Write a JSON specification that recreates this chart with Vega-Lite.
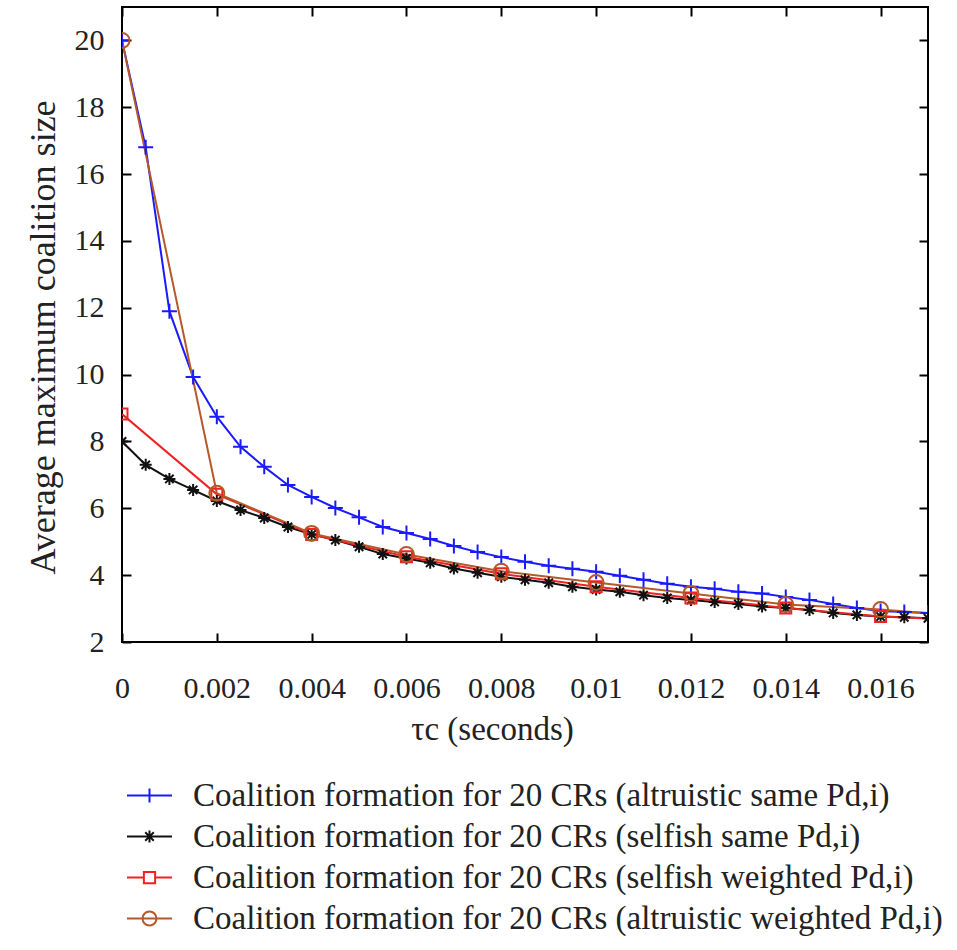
{
  "$schema": "https://vega.github.io/schema/vega-lite/v6.json",
  "width": 806,
  "height": 635,
  "autosize": "none",
  "padding": {"left": 122, "top": 7, "right": 29, "bottom": 308},
  "background": "white",
  "config": {
    "font": "Liberation Serif",
    "view": {"stroke": "black", "strokeWidth": 2},
    "axis": {
      "grid": false,
      "domain": false,
      "tickColor": "black",
      "tickWidth": 2,
      "tickSize": -9,
      "labelFont": "Liberation Serif",
      "labelFontSize": 30,
      "labelColor": "#222222",
      "titleFont": "Liberation Serif",
      "titleFontSize": 33,
      "titleFontWeight": "normal",
      "titleColor": "#222222"
    }
  },
  "data": {
    "values": [
      {"series": "altruistic same", "x": 0, "y": 20},
      {"series": "altruistic same", "x": 0.0005, "y": 16.8},
      {"series": "altruistic same", "x": 0.001, "y": 11.9},
      {"series": "altruistic same", "x": 0.0015, "y": 9.93},
      {"series": "altruistic same", "x": 0.002, "y": 8.74},
      {"series": "altruistic same", "x": 0.0025, "y": 7.84},
      {"series": "altruistic same", "x": 0.003, "y": 7.24},
      {"series": "altruistic same", "x": 0.0035, "y": 6.7},
      {"series": "altruistic same", "x": 0.004, "y": 6.34},
      {"series": "altruistic same", "x": 0.0045, "y": 6.01},
      {"series": "altruistic same", "x": 0.005, "y": 5.73},
      {"series": "altruistic same", "x": 0.0055, "y": 5.44},
      {"series": "altruistic same", "x": 0.006, "y": 5.26},
      {"series": "altruistic same", "x": 0.0065, "y": 5.08},
      {"series": "altruistic same", "x": 0.007, "y": 4.87},
      {"series": "altruistic same", "x": 0.0075, "y": 4.69},
      {"series": "altruistic same", "x": 0.008, "y": 4.54},
      {"series": "altruistic same", "x": 0.0085, "y": 4.4},
      {"series": "altruistic same", "x": 0.009, "y": 4.28},
      {"series": "altruistic same", "x": 0.0095, "y": 4.19},
      {"series": "altruistic same", "x": 0.01, "y": 4.1},
      {"series": "altruistic same", "x": 0.0105, "y": 3.98},
      {"series": "altruistic same", "x": 0.011, "y": 3.86},
      {"series": "altruistic same", "x": 0.0115, "y": 3.74},
      {"series": "altruistic same", "x": 0.012, "y": 3.65},
      {"series": "altruistic same", "x": 0.0125, "y": 3.59},
      {"series": "altruistic same", "x": 0.013, "y": 3.5},
      {"series": "altruistic same", "x": 0.0135, "y": 3.45},
      {"series": "altruistic same", "x": 0.014, "y": 3.35},
      {"series": "altruistic same", "x": 0.0145, "y": 3.26},
      {"series": "altruistic same", "x": 0.015, "y": 3.14},
      {"series": "altruistic same", "x": 0.0155, "y": 3.02},
      {"series": "altruistic same", "x": 0.016, "y": 2.93},
      {"series": "altruistic same", "x": 0.0165, "y": 2.9},
      {"series": "altruistic same", "x": 0.017, "y": 2.87},
      {"series": "selfish same", "x": 0, "y": 8.0},
      {"series": "selfish same", "x": 0.0005, "y": 7.3},
      {"series": "selfish same", "x": 0.001, "y": 6.88},
      {"series": "selfish same", "x": 0.0015, "y": 6.55},
      {"series": "selfish same", "x": 0.002, "y": 6.22},
      {"series": "selfish same", "x": 0.0025, "y": 5.95},
      {"series": "selfish same", "x": 0.003, "y": 5.71},
      {"series": "selfish same", "x": 0.0035, "y": 5.44},
      {"series": "selfish same", "x": 0.004, "y": 5.22},
      {"series": "selfish same", "x": 0.0045, "y": 5.05},
      {"series": "selfish same", "x": 0.005, "y": 4.85},
      {"series": "selfish same", "x": 0.0055, "y": 4.63},
      {"series": "selfish same", "x": 0.006, "y": 4.5},
      {"series": "selfish same", "x": 0.0065, "y": 4.37},
      {"series": "selfish same", "x": 0.007, "y": 4.2},
      {"series": "selfish same", "x": 0.0075, "y": 4.07},
      {"series": "selfish same", "x": 0.008, "y": 3.95},
      {"series": "selfish same", "x": 0.0085, "y": 3.86},
      {"series": "selfish same", "x": 0.009, "y": 3.77},
      {"series": "selfish same", "x": 0.0095, "y": 3.65},
      {"series": "selfish same", "x": 0.01, "y": 3.57},
      {"series": "selfish same", "x": 0.0105, "y": 3.5},
      {"series": "selfish same", "x": 0.011, "y": 3.4},
      {"series": "selfish same", "x": 0.0115, "y": 3.32},
      {"series": "selfish same", "x": 0.012, "y": 3.26},
      {"series": "selfish same", "x": 0.0125, "y": 3.2},
      {"series": "selfish same", "x": 0.013, "y": 3.14},
      {"series": "selfish same", "x": 0.0135, "y": 3.06},
      {"series": "selfish same", "x": 0.014, "y": 3.02},
      {"series": "selfish same", "x": 0.0145, "y": 2.96},
      {"series": "selfish same", "x": 0.015, "y": 2.87},
      {"series": "selfish same", "x": 0.0155, "y": 2.81},
      {"series": "selfish same", "x": 0.016, "y": 2.76},
      {"series": "selfish same", "x": 0.0165, "y": 2.74},
      {"series": "selfish same", "x": 0.017, "y": 2.71},
      {"series": "selfish weighted", "x": 0, "y": 8.82},
      {"series": "selfish weighted", "x": 0.002, "y": 6.42},
      {"series": "selfish weighted", "x": 0.004, "y": 5.22},
      {"series": "selfish weighted", "x": 0.006, "y": 4.55},
      {"series": "selfish weighted", "x": 0.008, "y": 4.04},
      {"series": "selfish weighted", "x": 0.01, "y": 3.65},
      {"series": "selfish weighted", "x": 0.012, "y": 3.32},
      {"series": "selfish weighted", "x": 0.014, "y": 3.02},
      {"series": "selfish weighted", "x": 0.016, "y": 2.76},
      {"series": "selfish weighted", "x": 0.017, "y": 2.7},
      {"series": "altruistic weighted", "x": 0, "y": 20},
      {"series": "altruistic weighted", "x": 0.002, "y": 6.45},
      {"series": "altruistic weighted", "x": 0.004, "y": 5.25},
      {"series": "altruistic weighted", "x": 0.006, "y": 4.62},
      {"series": "altruistic weighted", "x": 0.008, "y": 4.12},
      {"series": "altruistic weighted", "x": 0.01, "y": 3.78},
      {"series": "altruistic weighted", "x": 0.012, "y": 3.45},
      {"series": "altruistic weighted", "x": 0.014, "y": 3.12},
      {"series": "altruistic weighted", "x": 0.016, "y": 2.97},
      {"series": "altruistic weighted", "x": 0.017, "y": 2.86}
    ]
  },
  "resolve": {"axis": {"x": "independent", "y": "independent"}},
  "layer": [
    {
      "mark": {"type": "point", "filled": false, "opacity": 0, "strokeWidth": 2},
      "encoding": {
        "x": {"field": "x", "type": "quantitative", "scale": {"domain": [0, 0.017], "nice": false, "zero": false},
              "axis": {"orient": "bottom", "values": [0, 0.002, 0.004, 0.006, 0.008, 0.01, 0.012, 0.014, 0.016], "format": "~g", "labelPadding": 40, "title": "τc (seconds)", "titlePadding": 10, "titleX": 370, "labelFlush": false}},
        "y": {"field": "y", "type": "quantitative", "scale": {"domain": [2, 21], "nice": false, "zero": false},
              "axis": {"orient": "left", "values": [2, 4, 6, 8, 10, 12, 14, 16, 18, 20], "labelPadding": 27, "title": "Average maximum coalition size", "titlePadding": 12, "titleFontSize": 36, "titleY": 330}},
        "color": {"field": "series", "type": "nominal",
                  "scale": {"domain": ["altruistic same", "selfish same", "selfish weighted", "altruistic weighted"], "range": ["#1a1aff", "#111111", "#ee2222", "#b5592a"]},
                  "legend": {"title": null, "orient": "none", "legendX": 4, "legendY": 765, "direction": "vertical",
                             "labelFont": "Liberation Serif", "labelFontSize": 33, "labelColor": "#222222", "labelOffset": 20, "labelLimit": 0,
                             "symbolSize": 2025, "symbolStrokeWidth": 2, "symbolOpacity": 1, "padding": 0, "rowPadding": -2,
                             "encode": {"symbols": {"update": {"opacity": {"value": 1}}}},
                             "labelExpr": "'Coalition formation for 20 CRs (' + datum.label + ' Pd,i)'"}},
        "shape": {"field": "series", "type": "nominal",
                  "scale": {"domain": ["altruistic same", "selfish same", "selfish weighted", "altruistic weighted"],
                            "range": ["M-1,0H1M0,-0.31V0.31", "M-1,0H1M0,-0.27V0.27M-0.19,-0.19L0.19,0.19M-0.19,0.19L0.19,-0.19", "M-1,0H-0.25M0.25,0H1M-0.25,-0.25H0.25V0.25H-0.25Z", "M-1,0H1M0.31,0A0.31,0.31,0,1,1,-0.31,0A0.31,0.31,0,1,1,0.31,0"]},
                  "legend": {"title": null, "orient": "none", "legendX": 4, "legendY": 765, "direction": "vertical",
                             "labelFont": "Liberation Serif", "labelFontSize": 33, "labelColor": "#222222", "labelOffset": 20, "labelLimit": 0,
                             "symbolSize": 2025, "symbolStrokeWidth": 2, "symbolOpacity": 1, "padding": 0, "rowPadding": -2,
                             "encode": {"symbols": {"update": {"opacity": {"value": 1}}}},
                             "labelExpr": "'Coalition formation for 20 CRs (' + datum.label + ' Pd,i)'"}}
      }
    },
    {
      "mark": {"type": "line", "strokeWidth": 2, "clip": true},
      "encoding": {
        "x": {"field": "x", "type": "quantitative", "axis": {"orient": "top", "values": [0, 0.002, 0.004, 0.006, 0.008, 0.01, 0.012, 0.014, 0.016], "labels": false, "title": null}},
        "y": {"field": "y", "type": "quantitative", "axis": {"orient": "right", "values": [2, 4, 6, 8, 10, 12, 14, 16, 18, 20], "labels": false, "title": null}},
        "color": {"field": "series", "type": "nominal"},
        "order": {"field": "x", "type": "quantitative"},
        "detail": {"field": "series"}
      }
    },
    {
      "transform": [{"filter": "datum.series == 'altruistic same'"}],
      "mark": {"type": "point", "shape": "M-1,0H1M0,-1V1", "size": 225, "strokeWidth": 2, "filled": false, "opacity": 1, "clip": true},
      "encoding": {
        "x": {"field": "x", "type": "quantitative", "axis": null},
        "y": {"field": "y", "type": "quantitative", "axis": null},
        "color": {"field": "series", "type": "nominal"}
      }
    },
    {
      "transform": [{"filter": "datum.series == 'selfish same'"}],
      "mark": {"type": "point", "shape": "M-1,0H1M0,-1V1M-0.7,-0.7L0.7,0.7M-0.7,0.7L0.7,-0.7", "size": 144, "strokeWidth": 2, "filled": false, "opacity": 1, "clip": true},
      "encoding": {
        "x": {"field": "x", "type": "quantitative", "axis": null},
        "y": {"field": "y", "type": "quantitative", "axis": null},
        "color": {"field": "series", "type": "nominal"}
      }
    },
    {
      "transform": [{"filter": "datum.series == 'selfish weighted' && datum.x <= 0.0165"}],
      "mark": {"type": "point", "shape": "square", "size": 121, "strokeWidth": 2, "filled": false, "opacity": 1, "clip": true},
      "encoding": {
        "x": {"field": "x", "type": "quantitative", "axis": null},
        "y": {"field": "y", "type": "quantitative", "axis": null},
        "color": {"field": "series", "type": "nominal"}
      }
    },
    {
      "transform": [{"filter": "datum.series == 'altruistic weighted' && datum.x <= 0.0165"}],
      "mark": {"type": "point", "shape": "circle", "size": 225, "strokeWidth": 2, "filled": false, "opacity": 1, "clip": true},
      "encoding": {
        "x": {"field": "x", "type": "quantitative", "axis": null},
        "y": {"field": "y", "type": "quantitative", "axis": null},
        "color": {"field": "series", "type": "nominal"}
      }
    }
  ]
}
